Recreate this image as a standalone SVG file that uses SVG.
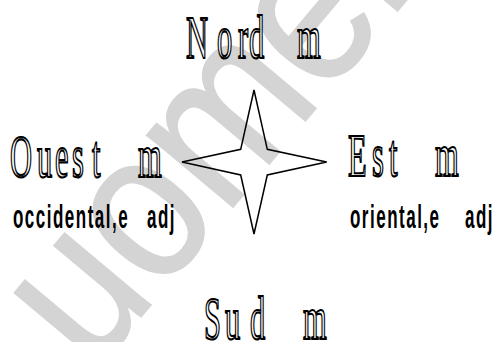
<svg xmlns="http://www.w3.org/2000/svg" width="498" height="342" viewBox="0 0 498 342">
<style>
.wm{font-family:"Liberation Sans",Arial,sans-serif;font-size:212px;fill:#d4d4d4;stroke:#d4d4d4;stroke-width:2px}
.ol{font-family:"Liberation Serif","Times New Roman",serif;font-size:61px;fill:#fff;stroke:#000;stroke-width:1.7px;vector-effect:non-scaling-stroke}
.bd{font-family:"Liberation Sans",Arial,sans-serif;font-weight:bold;font-size:34px;fill:#000;letter-spacing:3px}
.star{fill:none;stroke:#000;stroke-width:1.5;stroke-linejoin:miter}
</style>
<rect width="498" height="342" fill="#fff"/>
<g id="watermark" transform="translate(274,158) rotate(-50) scale(0.87,1)">
<text class="wm" x="0" y="0" text-anchor="middle">uomen</text>
</g>
<g id="connectors"></g>
<g id="star">
<polygon class="star" points="254,90 267.3,149.3 326.7,162 267.3,175 254,234 240.7,175 182,162 240.7,149.3"/>
</g>
<g id="nord" transform="translate(0,58) scale(0.5,1)">
<text class="ol" x="372 434 476 498 530 594" y="0">Nord m</text>
</g>
<g id="ouest">
<g transform="translate(0,177) scale(0.5,1)">
<text class="ol" x="20 74 110 144 184 230 276" y="0">Ouest m</text>
</g>
<g transform="translate(0,228) scale(0.5,1)">
<text class="bd" x="26" y="0">occidental,e <tspan x="294">adj</tspan></text>
</g>
</g>
<g id="est">
<g transform="translate(0,176) scale(0.5,1)">
<text class="ol" x="696 744 778 820 870" y="0">Est m</text>
</g>
<g transform="translate(0,228) scale(0.5,1)">
<text class="bd" x="700" y="0">oriental,e <tspan x="930">adj</tspan></text>
</g>
</g>
<g id="sud" transform="translate(0,339) scale(0.5,1)">
<text class="ol" x="408 450 500 560 606" y="0">Sud m</text>
</g>
</svg>
